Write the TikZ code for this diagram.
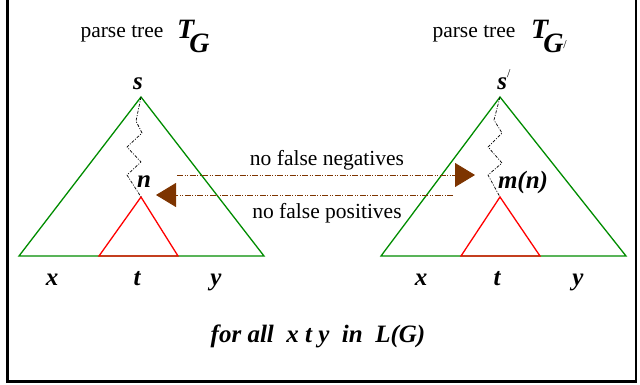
\documentclass[tikz,border=0pt]{standalone}
\usepackage{fontspec}
\setmainfont{Liberation Serif}
\newfontfamily\tms{Liberation Serif}
\usetikzlibrary{arrows.meta}
\definecolor{treegreen}{RGB}{0,140,0}
\definecolor{mapbrown}{RGB}{125,52,0}
\newcommand{\bit}[1]{{\tms\bfseries\itshape #1}}
\newcommand{\prm}[1]{\raisebox{#1}{\tms\upshape\mdseries\fontsize{12}{12}\selectfont /}}
\newcommand{\low}[1]{\kern-0.18em\raisebox{-14pt}{\bit{#1}}}
\tikzset{
  var/.style={font=\tms\fontsize{25}{25}\selectfont, inner sep=0pt, anchor=base},
  big/.style={font=\tms\fontsize{28}{28}\selectfont, inner sep=0pt, anchor=base west},
  lbl/.style={font=\tms\fontsize{21.5}{22}\selectfont, inner sep=0pt, anchor=base},
  tree/.style={treegreen, line width=1.3pt},
  sub/.style={red, line width=1.3pt},
  path/.style={black, line width=0.7pt, dash pattern=on 3pt off 1.5pt on 1pt off 1.5pt},
  map/.style={mapbrown, line width=0.9pt, dash pattern=on 6pt off 1.5pt on 1pt off 1.5pt on 1pt off 1.5pt,
    -{Triangle[length=20pt,width=24pt]}}
}
\begin{document}
\begin{tikzpicture}[x=1pt,y=-1pt]
\useasboundingbox (0,0) rectangle (640,385);
\clip (0,0) rectangle (640,385);
\draw[line width=2.6pt] (7.5,-10) rectangle (636,381.5);

% left tree
\node[lbl](P1) at (122,38){parse tree};
\node[big](T1) at (177,39){\bit{T}\low{G}};
\node[var](S1) at (138,90){\bit{s}};
\node[var](N1) at (144,187){\bit{n}};
\coordinate (A1) at (141,97);
\coordinate (R1) at (141,197);
\draw[tree](A1)--(19,256)--(264,256)--cycle;
\draw[sub](R1)--(99,256)--(178,256)--cycle;
\draw[path](A1)--(136,121)--(142,133)--(127,147)--(141,162)--(127,175)--(R1);
\node[var](X1) at (52,285){\bit{x}};
\node[var](Y1) at (137,285){\bit{t}};
\node[var](Z1) at (216,285){\bit{y}};

% right tree
\node[lbl](P2) at (474,38){parse tree};
\node[big](T2) at (531,39){\bit{T}\low{G}\raisebox{-14pt}{\prm{4pt}}};
\node[var](S2) at (504,90){\bit{s}\prm{12pt}};
\node[var](N2) at (523,188){\bit{m(n)}};
\coordinate (A2) at (500,97);
\coordinate (R2) at (500,197);
\draw[tree](A2)--(381,256)--(626,256)--cycle;
\draw[sub](R2)--(461,256)--(540,256)--cycle;
\draw[path](A2)--(494,120)--(502,133)--(488,147)--(502,163)--(488,175)--(R2);
\node[var](X2) at (421,285){\bit{x}};
\node[var](Y2) at (497,285){\bit{t}};
\node[var](Z2) at (578,285){\bit{y}};

% mappings
\coordinate (FN1) at (177,175);
\coordinate (FN2) at (475,175);
\coordinate (FP1) at (453,195);
\coordinate (FP2) at (156,195);
\draw[map](FN1)--(FN2);
\draw[map](FP1)--(FP2);
\node[lbl](NEG) at (327,165){no false negatives};
\node[lbl](POS) at (327,218){no false positives};

\node[var](ALL) at (318,342){\bit{for all\ \ x t y\ \ in\ \ L(G)}};
\end{tikzpicture}
\end{document}
